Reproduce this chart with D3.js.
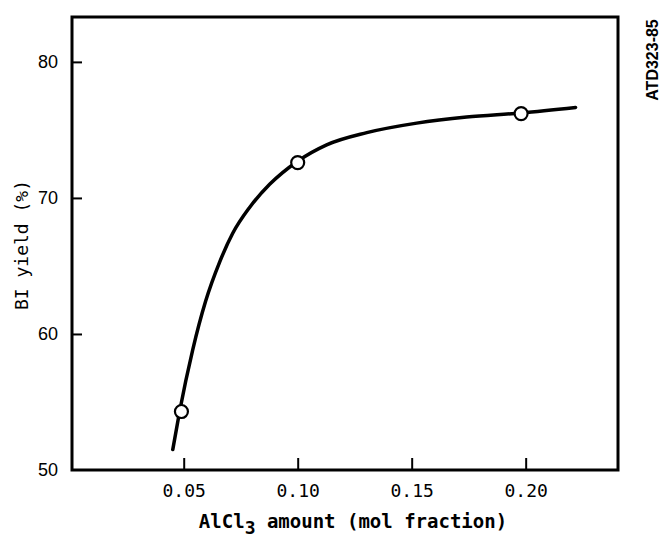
<!DOCTYPE html>
<html>
<head>
<meta charset="utf-8">
<script src="https://cdn.jsdelivr.net/npm/d3@7"></script>
<style>
  body { margin: 0; background: #fff; }
  svg { display: block; }
  .axis text { fill: #000; }
  .x.axis text { font-family: "DejaVu Sans Mono", monospace; font-size: 18px; }
  .y.axis text { font-family: "Liberation Sans", Arial, sans-serif; font-size: 18px; }
  .axis line { stroke: #000; stroke-width: 2px; }
  .axistitle { font-family: "DejaVu Sans Mono", monospace; fill: #000; }
</style>
</head>
<body>
<div id="chart"></div>
<script>
// measured points (AlCl3 mol fraction vs BI yield %)
var pointX = [0.049, 0.100, 0.198],
    pointY = [54.3, 72.6, 76.2];

// hand-drawn fitted curve
var curveX = [0.0452, 0.0482, 0.0539, 0.0596, 0.0658, 0.0715, 0.0789, 0.0877, 0.1000, 0.1127, 0.1303, 0.1522, 0.1741, 0.1982, 0.2219],
    curveY = [51.5, 54.3, 58.8, 62.4, 65.3, 67.4, 69.3, 71.0, 72.7, 73.9, 74.8, 75.5, 75.95, 76.25, 76.65];

var xTicks = [0.05, 0.10, 0.15, 0.20],
    xTickLabels = ["0.05", "0.10", "0.15", "0.20"],
    yTicks = [50, 60, 70, 80];

var margin = { top: 17, right: 47, bottom: 68, left: 72 },
    width = 665 - margin.left - margin.right,
    height = 538 - margin.top - margin.bottom;

var x = d3.scaleLinear()
    .range([0, width])
    .domain([0.001, 0.2405]);

var y = d3.scaleLinear()
    .range([height, 0])
    .domain([50, 83.3]);

var line = d3.line()
    .x(function(d) { return x(d[0]); })
    .y(function(d) { return y(d[1]); })
    .curve(d3.curveMonotoneX);

var svg = d3.select("#chart").append("svg")
    .attr("width", 665)
    .attr("height", 538);

var g = svg.append("g")
    .attr("transform", "translate(" + margin.left + "," + margin.top + ")");

// Axes (ticks point inward)
var xAxis = d3.axisBottom(x)
    .tickValues(xTicks)
    .tickSizeInner(-12)
    .tickSizeOuter(0)
    .tickPadding(14)
    .tickFormat(function(d, i) { return xTickLabels[i]; });
g.append("g")
    .attr("class", "x axis")
    .attr("transform", "translate(0," + height + ")")
    .call(xAxis)
    .call(function(s) { s.select(".domain").remove(); });

var yAxis = d3.axisLeft(y)
    .tickValues(yTicks)
    .tickSizeInner(-10)
    .tickSizeOuter(0)
    .tickPadding(14)
    .tickFormat(d3.format("d"));
g.append("g")
    .attr("class", "y axis")
    .call(yAxis)
    .call(function(s) {
        s.select(".domain").remove();
        s.selectAll(".tick").filter(function(d) { return d == 50; }).select("line").remove();
    });

// Frame
g.append("rect")
    .attr("x", 0)
    .attr("y", 0)
    .attr("width", width)
    .attr("height", height)
    .attr("fill", "none")
    .attr("stroke", "#000")
    .attr("stroke-width", 3);

// Curve
g.append("path")
    .datum(d3.zip(curveX, curveY))
    .attr("d", line)
    .attr("fill", "none")
    .attr("stroke", "#000")
    .attr("stroke-width", 3.5)
    .attr("stroke-linecap", "round");

// Points
g.selectAll("circle.pt")
    .data(d3.zip(pointX, pointY))
  .enter().append("circle")
    .attr("class", "pt")
    .attr("cx", function(d) { return x(d[0]); })
    .attr("cy", function(d) { return y(d[1]); })
    .attr("r", 6.5)
    .attr("fill", "#fff")
    .attr("stroke", "#000")
    .attr("stroke-width", 2.2);

// Axis titles
var xt = svg.append("text")
    .attr("class", "axistitle")
    .attr("x", 353)
    .attr("y", 528)
    .attr("text-anchor", "middle")
    .attr("font-size", 19)
    .attr("font-weight", "bold");
xt.append("tspan").text("AlCl");
xt.append("tspan").attr("dy", 6).attr("font-size", 18).text("3");
xt.append("tspan").attr("dy", -6).text(" amount (mol fraction)");

svg.append("text")
    .attr("class", "axistitle")
    .attr("transform", "translate(28,245) rotate(-90)")
    .attr("text-anchor", "middle")
    .attr("font-size", 18)
    .text("BI yield (%)");

svg.append("text")
    .attr("transform", "translate(658,60) rotate(-90)")
    .attr("text-anchor", "middle")
    .attr("font-family", "'Liberation Sans', Arial, sans-serif")
    .attr("font-weight", "bold")
    .attr("font-size", 16)
    .text("ATD323-85");
</script>
</body>
</html>
